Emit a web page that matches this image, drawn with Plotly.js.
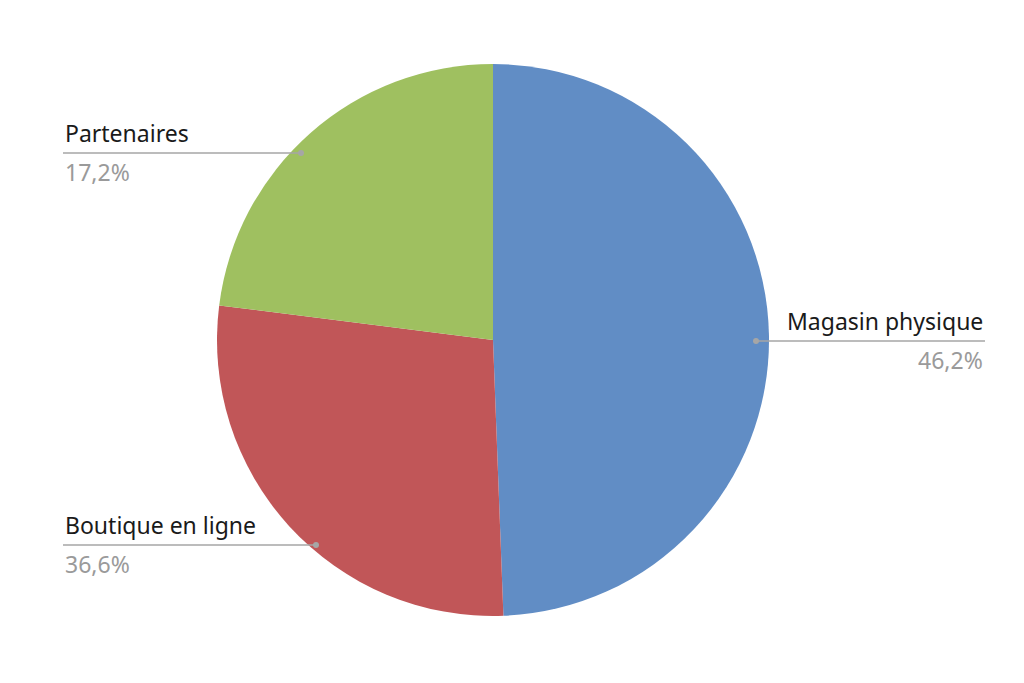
<!DOCTYPE html>
<html>
<head>
<meta charset="utf-8">
<script src="https://cdn.plot.ly/plotly-3.0.1.min.js"></script>
<style>
  html, body { margin: 0; padding: 0; background: #fff; }
  #chart { width: 1024px; height: 683px; }
</style>
</head>
<body>
<div id="chart"></div>
<script>
// channel names, slice sizes and the printed shares
var channels = ['Magasin physique', 'Boutique en ligne', 'Partenaires'];
var sliceValues = [49.4, 27.6, 23.0];
var shareText = ['46,2%', '36,6%', '17,2%'];
var sliceColors = ['#618dc5', '#c15658', '#9fc060'];

var W = 1024, H = 683;
function px(x) { return x / W; }
function py(y) { return 1 - y / H; }

// where each callout sits: dot on the slice, end of the rule, text side
var callouts = [
  { dotX: 756, dotY: 341, endX: 985, side: 'right' },
  { dotX: 316, dotY: 545, endX: 63, side: 'left' },
  { dotX: 301, dotY: 153, endX: 63, side: 'left' }
];

var lineGrey = '#a6a6a6';
var shapes = [];
var annotations = [];

callouts.forEach(function (c, i) {
  shapes.push({
    type: 'line', xref: 'paper', yref: 'paper',
    x0: px(c.dotX), y0: py(c.dotY), x1: px(c.endX), y1: py(c.dotY),
    line: { color: lineGrey, width: 1.5 }
  });
  shapes.push({
    type: 'circle', xref: 'paper', yref: 'paper',
    x0: px(c.dotX - 3), y0: py(c.dotY - 3), x1: px(c.dotX + 3), y1: py(c.dotY + 3),
    fillcolor: lineGrey, line: { width: 0 }
  });
  var anchor = c.side === 'right' ? 'right' : 'left';
  annotations.push({
    xref: 'paper', yref: 'paper', x: px(c.endX), y: py(c.dotY - 2),
    xanchor: anchor, yanchor: 'bottom', showarrow: false,
    text: channels[i],
    font: { family: 'Noto Sans', size: 23, color: '#1a1a1a' }
  });
  annotations.push({
    xref: 'paper', yref: 'paper', x: px(c.endX), y: py(c.dotY + 1),
    xanchor: anchor, yanchor: 'top', showarrow: false,
    text: shareText[i],
    font: { family: 'Noto Sans', size: 23, color: '#9a9a9a' }
  });
});

var data = [{
  type: 'pie',
  labels: channels,
  values: sliceValues,
  sort: false,
  direction: 'clockwise',
  rotation: 0,
  textinfo: 'none',
  hoverinfo: 'label+percent',
  marker: { colors: sliceColors, line: { width: 0 } },
  domain: { x: [0.2119, 0.7510], y: [0.0981, 0.9063] }
}];

var layout = {
  width: W,
  height: H,
  margin: { l: 0, r: 0, t: 0, b: 0 },
  paper_bgcolor: '#ffffff',
  showlegend: false,
  shapes: shapes,
  annotations: annotations
};

Plotly.newPlot('chart', data, layout, { displayModeBar: false, staticPlot: true });
</script>
</body>
</html>
